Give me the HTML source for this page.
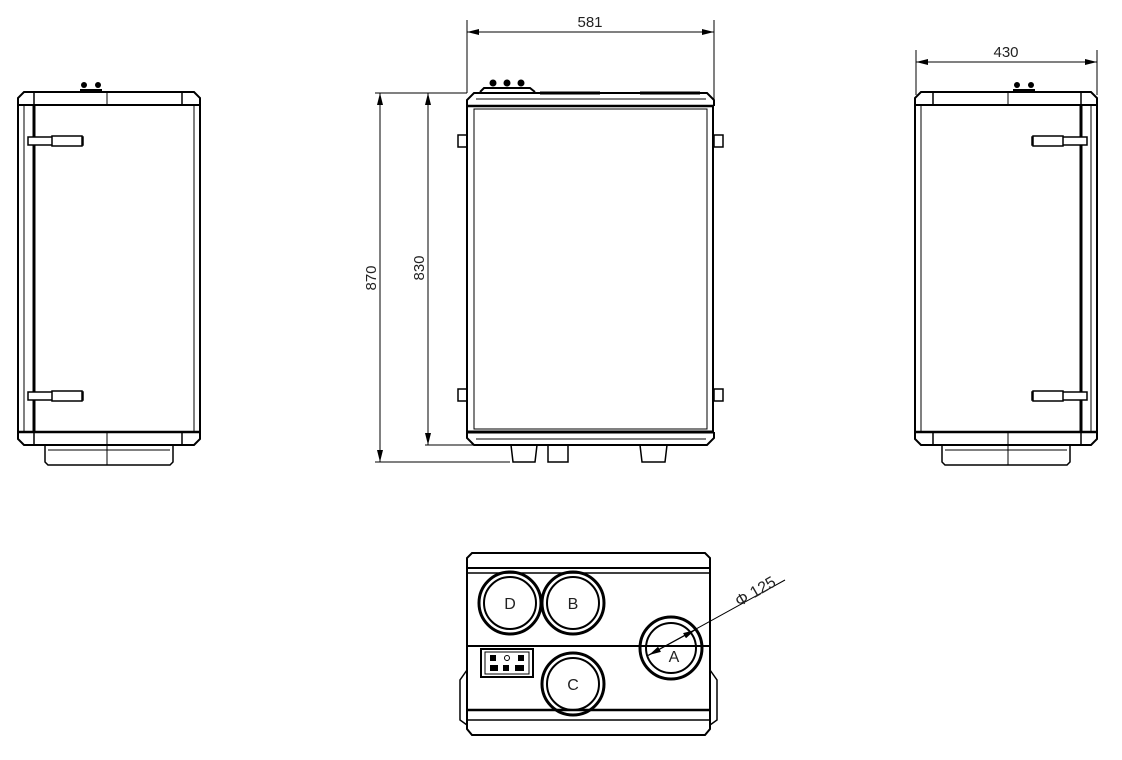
<!DOCTYPE html>
<html><head><style>html,body{margin:0;padding:0;background:#fff}svg{display:block}</style></head>
<body>
<svg width="1122" height="760" viewBox="0 0 1122 760" xmlns="http://www.w3.org/2000/svg" font-family="Liberation Sans, sans-serif">
<defs>
<marker id="ar" markerWidth="12" markerHeight="6" refX="12" refY="3" orient="auto-start-reverse" markerUnits="userSpaceOnUse"><path d="M0,0 L12,3 L0,6 Z" fill="#000"/></marker>
<g id="side">
  <!-- top cap -->
  <path d="M18,105 L18,98 L24,92 L194,92 L200,98 L200,105" fill="none" stroke="#000" stroke-width="2"/>
  <line x1="18" y1="105" x2="200" y2="105" stroke="#000" stroke-width="2"/>
  <line x1="34" y1="92" x2="34" y2="105" stroke="#000" stroke-width="1.5"/>
  <line x1="182" y1="92" x2="182" y2="105" stroke="#000" stroke-width="1.5"/>
  <line x1="107" y1="92" x2="107" y2="105" stroke="#000" stroke-width="1"/>
  <!-- body -->
  <line x1="18" y1="105" x2="18" y2="432" stroke="#000" stroke-width="2"/>
  <line x1="200" y1="105" x2="200" y2="432" stroke="#000" stroke-width="2"/>
  <line x1="24" y1="105" x2="24" y2="432" stroke="#000" stroke-width="1"/>
  <line x1="34" y1="105" x2="34" y2="432" stroke="#000" stroke-width="3"/>
  <line x1="194" y1="105" x2="194" y2="432" stroke="#000" stroke-width="1"/>
  <!-- bottom cap -->
  <line x1="18" y1="432" x2="200" y2="432" stroke="#000" stroke-width="2.5"/>
  <path d="M18,432 L18,439 L24,445 L194,445 L200,439 L200,432" fill="none" stroke="#000" stroke-width="2"/>
  <line x1="34" y1="432" x2="34" y2="445" stroke="#000" stroke-width="1.5"/>
  <line x1="182" y1="432" x2="182" y2="445" stroke="#000" stroke-width="1.5"/>
  <line x1="107" y1="432" x2="107" y2="465" stroke="#000" stroke-width="1"/>
  <!-- foot -->
  <path d="M45,445 L45,462 L48,465 L170,465 L173,462 L173,445" fill="none" stroke="#000" stroke-width="1.5"/>
  <line x1="48" y1="450" x2="170" y2="450" stroke="#000" stroke-width="1"/>
  <!-- hinges -->
  <rect x="28" y="137" width="55" height="8" fill="#fff" stroke="#000" stroke-width="1.5"/>
  <rect x="52" y="136" width="30" height="10" fill="#fff" stroke="#000" stroke-width="1.5"/>
  <rect x="28" y="392" width="55" height="8" fill="#fff" stroke="#000" stroke-width="1.5"/>
  <rect x="52" y="391" width="30" height="10" fill="#fff" stroke="#000" stroke-width="1.5"/>
  <!-- knobs -->
  <circle cx="84" cy="85" r="3" fill="#000"/><circle cx="98" cy="85" r="3" fill="#000"/>
  <path d="M80,90 L102,90" stroke="#000" stroke-width="2"/>
</g>
</defs>

<use href="#side"/>
<g transform="translate(1115,0) scale(-1,1)"><use href="#side"/></g>

<!-- front view -->
<g fill="none" stroke="#000">
  <path d="M467,106 L467,100 L474,93 L707,93 L714,100 L714,106" stroke-width="2"/>
  <line x1="467" y1="106" x2="714" y2="106" stroke-width="2.5"/>
  <line x1="476" y1="99" x2="706" y2="99" stroke-width="1"/>
  <rect x="467" y="106" width="246" height="326" stroke-width="2"/>
  <rect x="474" y="109" width="233" height="320" stroke-width="1"/>
  <line x1="467" y1="432" x2="714" y2="432" stroke-width="3"/>
  <path d="M467,432 L467,438 L474,445 L707,445 L714,438 L714,432" stroke-width="2"/>
  <line x1="476" y1="439" x2="706" y2="439" stroke-width="1"/>
  <path d="M511,445 L513,462 L535,462 L537,445" stroke-width="1.5"/>
  <path d="M548,445 L548,462 L568,462 L568,445" stroke-width="1.5"/>
  <path d="M640,445 L642,462 L665,462 L667,445" stroke-width="1.5"/>
  <rect x="458" y="135" width="9" height="12" stroke-width="1.5"/>
  <rect x="458" y="389" width="9" height="12" stroke-width="1.5"/>
  <rect x="714" y="135" width="9" height="12" stroke-width="1.5"/>
  <rect x="714" y="389" width="9" height="12" stroke-width="1.5"/>
  <line x1="540" y1="93" x2="600" y2="93" stroke-width="3"/>
  <line x1="640" y1="93" x2="700" y2="93" stroke-width="3"/>
</g>
<circle cx="493" cy="83" r="3.5"/><circle cx="507" cy="83" r="3.5"/><circle cx="521" cy="83" r="3.5"/>
<path d="M480,92 L484,88 L530,88 L535,92" fill="none" stroke="#000" stroke-width="2"/>

<!-- dimensions -->
<g stroke="#000" stroke-width="1" fill="none">
  <line x1="467" y1="20" x2="467" y2="93"/>
  <line x1="714" y1="20" x2="714" y2="100"/>
  <line x1="467" y1="32" x2="714" y2="32" marker-start="url(#ar)" marker-end="url(#ar)"/>
  <line x1="916" y1="50" x2="916" y2="95"/>
  <line x1="1097" y1="50" x2="1097" y2="95"/>
  <line x1="916" y1="62" x2="1097" y2="62" marker-start="url(#ar)" marker-end="url(#ar)"/>
  <line x1="375" y1="93" x2="467" y2="93"/>
  <line x1="425" y1="445" x2="510" y2="445"/>
  <line x1="375" y1="462" x2="510" y2="462"/>
  <line x1="380" y1="93" x2="380" y2="462" marker-start="url(#ar)" marker-end="url(#ar)"/>
  <line x1="428" y1="93" x2="428" y2="445" marker-start="url(#ar)" marker-end="url(#ar)"/>
</g>
<g font-size="15" fill="#222">
  <text x="590" y="27" text-anchor="middle">581</text>
  <text x="1006" y="57" text-anchor="middle">430</text>
  <text transform="translate(376,278) rotate(-90)" text-anchor="middle">870</text>
  <text transform="translate(424,268) rotate(-90)" text-anchor="middle">830</text>
</g>

<!-- bottom view -->
<g fill="none" stroke="#000">
  <path d="M467,568 L467,558 L472,553 L705,553 L710,558 L710,568" stroke-width="2"/>
  <line x1="467" y1="568" x2="710" y2="568" stroke-width="2"/>
  <line x1="467" y1="573" x2="710" y2="573" stroke-width="1.5"/>
  <line x1="467" y1="568" x2="467" y2="720" stroke-width="2"/>
  <line x1="710" y1="568" x2="710" y2="720" stroke-width="2"/>
  <line x1="467" y1="646" x2="710" y2="646" stroke-width="2"/>
  <line x1="467" y1="710" x2="710" y2="710" stroke-width="2.5"/>
  <path d="M467,720 L467,729 L472,735 L705,735 L710,729 L710,720" stroke-width="2"/>
  <line x1="467" y1="720" x2="710" y2="720" stroke-width="1.5"/>
  <path d="M467,670 L460,680 L460,720 L467,725" stroke-width="1.5"/>
  <path d="M710,670 L717,680 L717,720 L710,725" stroke-width="1.5"/>
  <rect x="481" y="649" width="52" height="28" stroke-width="2"/>
  <rect x="485" y="652" width="44" height="22" stroke-width="1"/>
</g>
<g fill="none" stroke="#000">
  <circle cx="510" cy="603" r="31" stroke-width="3"/><circle cx="510" cy="603" r="26" stroke-width="2"/>
  <circle cx="573" cy="603" r="31" stroke-width="3"/><circle cx="573" cy="603" r="26" stroke-width="2"/>
  <circle cx="573" cy="684" r="31" stroke-width="3"/><circle cx="573" cy="684" r="26" stroke-width="2"/>
  <circle cx="671" cy="648" r="31" stroke-width="3"/><circle cx="671" cy="648" r="25" stroke-width="2"/>
</g>
<rect x="490" y="655" width="6" height="6"/><rect x="518" y="655" width="6" height="6"/><circle cx="507" cy="658" r="2.5" fill="none" stroke="#000"/>
<rect x="490" y="665" width="8" height="6"/><rect x="503" y="665" width="6" height="6"/><rect x="515" y="665" width="9" height="6"/>
<line x1="647" y1="656" x2="785" y2="580" stroke="#000" stroke-width="1"/>
<line x1="649" y1="655" x2="695" y2="630" stroke="#000" stroke-width="1" marker-start="url(#ar)" marker-end="url(#ar)"/>
<g font-size="16" fill="#222" text-anchor="middle">
  <text x="510" y="609">D</text><text x="573" y="609">B</text><text x="573" y="690">C</text><text x="674" y="662">A</text>
</g>
<text transform="translate(758,596) rotate(-30)" font-size="16" fill="#222" text-anchor="middle">Φ 125</text>
</svg>
</body></html>
